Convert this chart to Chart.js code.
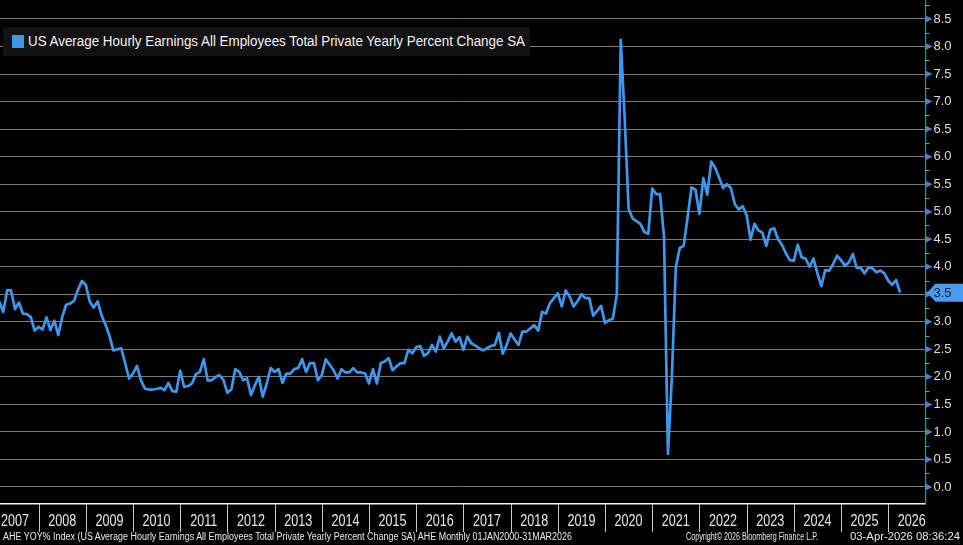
<!DOCTYPE html>
<html>
<head>
<meta charset="utf-8">
<script src="https://cdn.jsdelivr.net/npm/chart.js@4.4.1/dist/chart.umd.min.js"></script>
<style>
html,body{margin:0;padding:0;background:#000;}
#wrap{position:relative;width:963px;height:545px;overflow:hidden;background:#000;}
#c{position:absolute;left:0;top:0;}
#legend{position:absolute;left:3px;top:27px;width:527px;height:29px;background:#121212;}
#legend .sw{position:absolute;left:9px;top:8px;width:12px;height:13px;background:#3f97ec;}
#legend .tx{position:absolute;left:25px;top:6px;font:14px 'Liberation Sans',Arial,sans-serif;color:#f2f2f2;white-space:nowrap;line-height:17px;transform-origin:0 0;}
.ft{position:absolute;top:531px;font:10px 'Liberation Sans',Arial,sans-serif;color:#e8e8e8;white-space:nowrap;line-height:12px;transform-origin:0 0;}
</style>
</head>
<body>
<div id="wrap">
<canvas id="c" width="963" height="545"></canvas>
<div id="legend"><span class="sw"></span><span class="tx" data-w="497">US Average Hourly Earnings All Employees Total Private Yearly Percent Change SA</span></div>
<div class="ft" data-w="569" style="left:3px;">AHE YOY% Index (US Average Hourly Earnings All Employees Total Private Yearly Percent Change SA) AHE Monthly 01JAN2000-31MAR2026</div>
<div class="ft" data-w="132" style="left:686px;">Copyright© 2026 Bloomberg Finance L.P.</div>
<div class="ft" data-w="110" style="left:850px;">03-Apr-2026 08:36:24</div>
</div>
<script>
// ---- data (monthly, year-over-year % change) ----
const startYear = 2007;
const startMonth = 2; // first value is Feb 2007
const v2007 = [3.37, 3.18, 3.57, 3.57, 3.23, 3.35, 3.15, 3.14, 3.09, 2.84, 2.91];
const v2008 = [2.86, 3.08, 2.85, 3.02, 2.76, 3.09, 3.31, 3.33, 3.38, 3.58, 3.74, 3.67];
const v2009 = [3.37, 3.26, 3.37, 3.12, 2.95, 2.75, 2.48, 2.50, 2.52, 2.25, 1.97, 2.06];
const v2010 = [2.20, 1.94, 1.79, 1.77, 1.77, 1.78, 1.80, 1.76, 1.89, 1.74, 1.73, 2.11];
const v2011 = [1.82, 1.83, 1.88, 2.05, 2.09, 2.32, 1.93, 1.94, 2.00, 2.03, 1.94, 1.71];
const v2012 = [1.77, 2.14, 2.09, 1.94, 1.97, 1.67, 1.85, 2.00, 1.64, 1.88, 2.16, 2.09];
const v2013 = [2.14, 1.89, 2.06, 2.06, 2.14, 2.16, 2.32, 2.09, 2.25, 2.25, 1.94, 2.03];
const v2014 = [2.32, 2.22, 2.12, 1.97, 2.14, 2.08, 2.08, 2.16, 2.08, 2.08, 2.06, 1.88];
const v2015 = [2.14, 1.88, 2.25, 2.28, 2.34, 2.12, 2.19, 2.25, 2.25, 2.49, 2.43, 2.54];
const v2016 = [2.56, 2.38, 2.43, 2.58, 2.46, 2.73, 2.52, 2.64, 2.79, 2.64, 2.72, 2.49];
const v2017 = [2.73, 2.61, 2.57, 2.52, 2.48, 2.52, 2.56, 2.58, 2.80, 2.42, 2.58, 2.79];
const v2018 = [2.68, 2.58, 2.82, 2.82, 2.88, 2.94, 2.84, 3.18, 3.15, 3.34, 3.43, 3.52];
const v2019 = [3.28, 3.57, 3.46, 3.28, 3.37, 3.50, 3.43, 3.43, 3.11, 3.20, 3.29, 2.98];
const v2020 = [3.03, 3.06, 3.49, 8.12, 6.70, 5.05, 4.88, 4.83, 4.78, 4.63, 4.60, 5.42];
const v2021 = [5.32, 5.32, 4.55, 0.60, 2.00, 3.99, 4.34, 4.38, 4.90, 5.44, 5.40, 4.96];
const v2022 = [5.61, 5.31, 5.91, 5.80, 5.62, 5.43, 5.50, 5.43, 5.14, 5.04, 5.10, 4.94];
const v2023 = [4.49, 4.78, 4.66, 4.62, 4.38, 4.67, 4.70, 4.50, 4.40, 4.24, 4.12, 4.11];
const v2024 = [4.40, 4.17, 4.15, 4.00, 4.15, 3.88, 3.65, 3.94, 3.93, 4.05, 4.20, 4.12];
const v2025 = [4.02, 4.08, 4.23, 3.98, 3.98, 3.88, 3.99, 3.97, 3.90, 3.93, 3.88, 3.75];
const v2026 = [3.67, 3.76, 3.53];

const yearLabels = ['2007','2008','2009','2010','2011','2012','2013','2014','2015','2016',
                    '2017','2018','2019','2020','2021','2022','2023','2024','2025','2026'];
const yTickValues = [0, 0.5, 1, 1.5, 2, 2.5, 3, 3.5, 4, 4.5, 5, 5.5, 6, 6.5, 7, 7.5, 8, 8.5];
const seriesName = 'US Average Hourly Earnings All Employees Total Private Yearly Percent Change SA';

// ---- build points (plotted at month end) ----
const values = [].concat(v2007, v2008, v2009, v2010, v2011, v2012, v2013, v2014, v2015, v2016,
                         v2017, v2018, v2019, v2020, v2021, v2022, v2023, v2024, v2025, v2026);
const points = values.map((v, k) => ({ x: startYear + (startMonth + k) / 12, y: v }));

const LINE = '#3f97ec';
const AXIS_BLUE = '#4a80c8';

// fit html text blocks to the widths seen in the reference
document.querySelectorAll('[data-w]').forEach(el => {
  const w = el.getBoundingClientRect().width;
  const target = Number(el.dataset.w);
  if (w > 0) el.style.transform = 'scaleX(' + (target / w) + ')';
});

const decor = {
  id: 'decor',
  afterDraw(chart) {
    const ctx = chart.ctx;
    const xs = chart.scales.x, ys = chart.scales.y;
    const area = chart.chartArea;
    ctx.save();
    // year separators and year labels below the x axis
    ctx.strokeStyle = '#c8c8c8';
    ctx.lineWidth = 1;
    const yearW = xs.getPixelForValue(2021) - xs.getPixelForValue(2020);
    xs.ticks.forEach((t, i) => {
      const px0 = xs.getPixelForValue(t.value);
      const px = Math.round(px0) + 0.5;
      if (px >= 0 && px <= area.right) {
        ctx.beginPath();
        ctx.moveTo(px, area.bottom);
        ctx.lineTo(px, area.bottom + 28);
        ctx.stroke();
      }
      ctx.save();
      ctx.translate(px0 + yearW / 2, area.bottom + 17.5);
      ctx.scale(0.74, 1);
      ctx.fillStyle = '#e6e6e6';
      ctx.font = '17px "Liberation Sans", Arial, sans-serif';
      ctx.textAlign = 'center';
      ctx.textBaseline = 'middle';
      ctx.fillText(yearLabels[i], 0, 0);
      ctx.restore();
    });
    // right axis: minor ticks and major triangle markers
    const ax = area.right;
    ctx.strokeStyle = '#7f93b3';
    yTickValues.concat([8.75 - 0.25]).forEach(v => {
      const py = Math.round(ys.getPixelForValue(v + 0.25)) + 0.5;
      if (py < 0 || py > area.bottom) return;
      ctx.beginPath();
      ctx.moveTo(ax, py);
      ctx.lineTo(ax + 4, py);
      ctx.stroke();
    });
    ctx.fillStyle = AXIS_BLUE;
    yTickValues.forEach(v => {
      const py = ys.getPixelForValue(v);
      ctx.beginPath();
      ctx.moveTo(ax, py - 3.5);
      ctx.lineTo(ax + 7, py);
      ctx.lineTo(ax, py + 3.5);
      ctx.closePath();
      ctx.fill();
    });
    // last value tag
    const last = values[values.length - 1];
    const py = ys.getPixelForValue(last);
    ctx.fillStyle = '#4a9cf2';
    ctx.beginPath();
    ctx.moveTo(ax + 1.5, py);
    ctx.lineTo(ax + 10, py - 9);
    ctx.lineTo(963, py - 9);
    ctx.lineTo(963, py + 9);
    ctx.lineTo(ax + 10, py + 9);
    ctx.closePath();
    ctx.fill();
    ctx.fillStyle = '#0b1d3a';
    ctx.font = '13px "Liberation Sans", Arial, sans-serif';
    ctx.textBaseline = 'middle';
    ctx.textAlign = 'left';
    ctx.fillText(last.toFixed(1), ax + 8, py + 0.5);
    ctx.restore();
  }
};

new Chart(document.getElementById('c'), {
  type: 'line',
  data: {
    datasets: [{
      label: seriesName,
      data: points,
      borderColor: LINE,
      borderWidth: 2.7,
      pointRadius: 0,
      tension: 0,
      borderJoinStyle: 'round',
      fill: false
    }]
  },
  options: {
    responsive: false,
    animation: false,
    devicePixelRatio: 1,
    layout: { padding: 0 },
    plugins: { legend: { display: false }, tooltip: { enabled: false } },
    scales: {
      x: {
        type: 'linear',
        min: 2007.182,
        max: 2026.79,
        afterBuildTicks(s) { s.ticks = yearLabels.map(l => ({ value: Number(l) })); },
        afterFit(s) { s.height = 41; s.paddingLeft = 0; s.paddingRight = 0; s.paddingTop = 0; s.paddingBottom = 0; },
        grid: { display: false },
        border: { display: true, color: '#f2f2f2', width: 1.5 },
        ticks: { display: false, autoSkip: false }
      },
      y: {
        position: 'right',
        min: -0.309,
        max: 8.845,
        afterBuildTicks(s) { s.ticks = yTickValues.map(v => ({ value: v })); },
        afterFit(s) { s.width = 37.5; s.paddingTop = 0; s.paddingBottom = 0; s.paddingLeft = 0; s.paddingRight = 0; },
        grid: { color: '#7a7a7a', lineWidth: 1, drawTicks: false },
        border: { display: true, color: AXIS_BLUE, width: 1.2 },
        ticks: {
          padding: 8,
          color: '#dcdcdc',
          font: { family: "'Liberation Sans', Arial, sans-serif", size: 13 },
          callback: (v) => Number(v).toFixed(1)
        }
      }
    }
  },
  plugins: [decor]
});
</script>
</body>
</html>
